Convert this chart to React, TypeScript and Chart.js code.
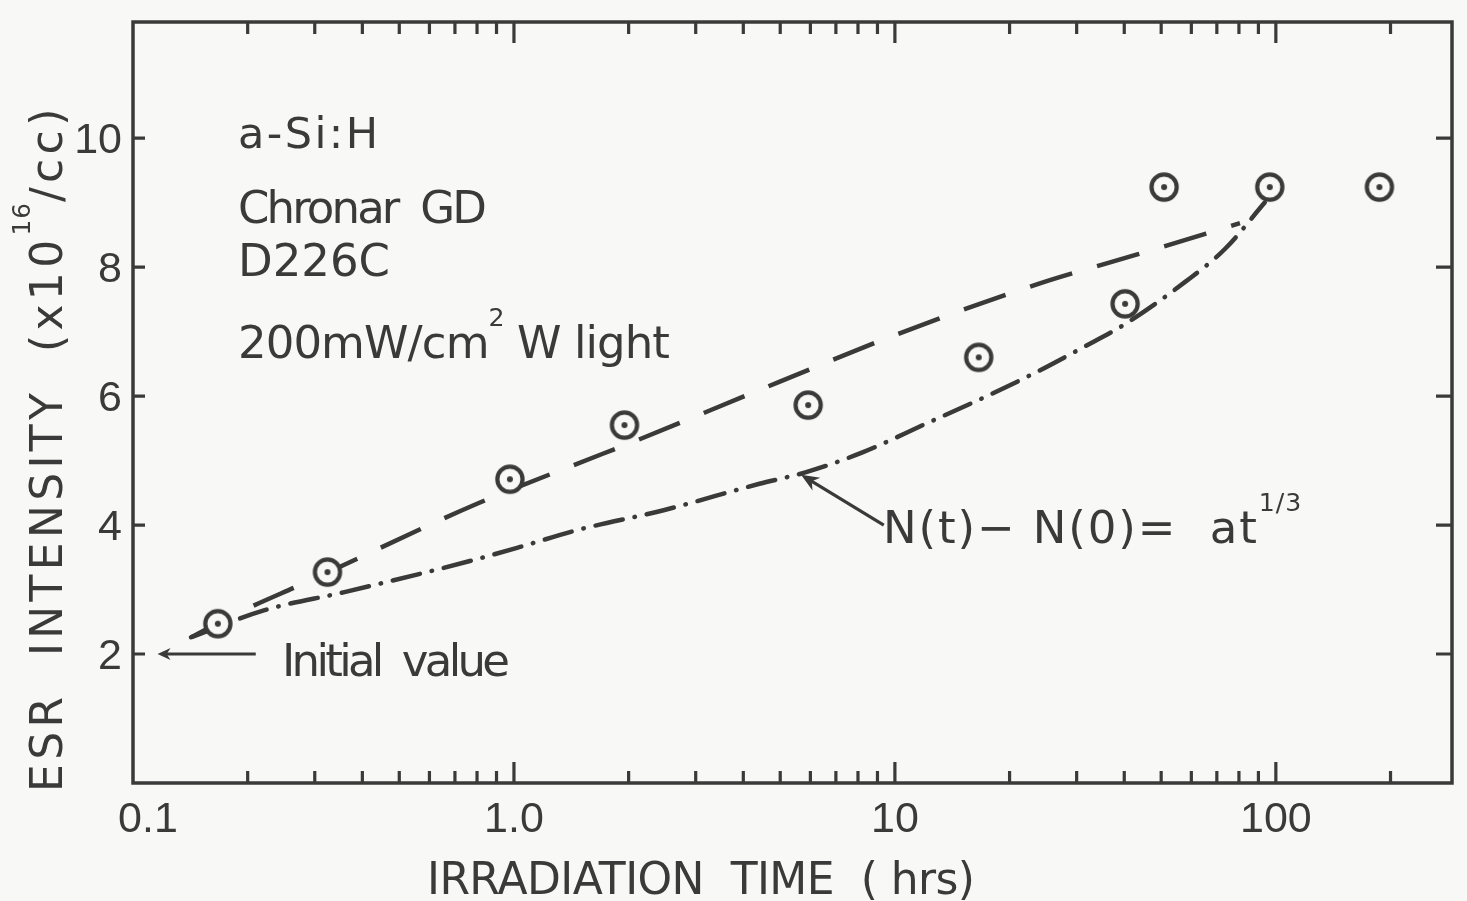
import React, { useEffect, useRef } from 'react';
import { Chart, registerables } from 'chart.js';

Chart.register(...registerables);

const INK = '#3a3a3a';
const PAPER = '#f8f8f6';
const TEXT_FONT = '"DejaVu Sans", sans-serif';
const DIGIT_FONT = '"Liberation Sans", Arial, sans-serif';

// Measured ESR spin density (x10^16 /cc) versus light-soaking time (hrs)
const irradiationHrs = [0.167, 0.324, 0.976, 1.95, 5.92, 16.6, 40.2, 50.9, 96.4, 187];
const esrDensity = [2.47, 3.27, 4.71, 5.55, 5.86, 6.6, 7.43, 9.24, 9.24, 9.24];

// Dashed guide through the data
const guideHrs = [0.142, 0.186, 0.287, 0.8, 1.436, 2.138, 4.15, 4.97, 10.06, 23.8, 43.5, 80.5];
const guideDensity = [2.26, 2.62, 3.12, 4.33, 4.93, 5.33, 6.03, 6.22, 6.95, 7.74, 8.2, 8.68];

// Dash-dot curve: N(t) - N(0) = a t^(1/3)
const fitHrs = [0.142, 0.2216, 0.359, 0.753, 1.037, 1.462, 2.47, 4.41, 5.85, 8.25, 12.05, 16.6, 22.97, 31.3, 40.3, 57.8, 73.5, 93.5];
const fitDensity = [2.26, 2.68, 2.96, 3.43, 3.66, 3.92, 4.23, 4.64, 4.82, 5.13, 5.57, 5.94, 6.34, 6.76, 7.12, 7.77, 8.28, 9.0];

// Axis ticks
const xMajorTicks = [0.1, 1, 10, 100];
const xTickLabels = ['0.1', '1.0', '10', '100'];
const xMinorTicks = [0.2, 0.3, 0.4, 0.5, 0.6, 0.7, 0.8, 0.9, 2, 3, 4, 5, 6, 7, 8, 9, 20, 30, 40, 50, 60, 70, 80, 90, 200];
const yTicks = [2, 4, 6, 8, 10];
const yTickLabels = ['2', '4', '6', '8', '10'];

// Arrow anchors (data space): "Initial value" pointer and fit-formula pointer
const initialArrowHrs = [0.21, 0.116];
const initialArrowDensity = [2, 2];
const fitArrowHrs = [9.35, 5.67];
const fitArrowDensity = [4.0, 4.78];

type Run = { text: string; sup?: boolean };

function drawRuns(ctx: CanvasRenderingContext2D, runs: Run[], x: number, y: number, size: number, width?: number) {
  const supSize = size * 0.56;
  const rise = size * 0.72;
  const fontFor = (r: Run) => `${r.sup ? supSize : size}px ${TEXT_FONT}`;
  let natural = 0;
  let glyphs = 0;
  ctx.save();
  (ctx as any).letterSpacing = '0px';
  for (const r of runs) {
    ctx.font = fontFor(r);
    natural += ctx.measureText(r.text).width;
    glyphs += [...r.text].length;
  }
  const spacing = width ? (width - natural) / Math.max(1, glyphs - 1) : 0;
  ctx.textAlign = 'left';
  ctx.textBaseline = 'alphabetic';
  ctx.fillStyle = INK;
  let cx = x;
  for (const r of runs) {
    ctx.font = fontFor(r);
    (ctx as any).letterSpacing = '0px';
    const w = ctx.measureText(r.text).width;
    const n = [...r.text].length;
    const s = r.sup ? Math.min(spacing, 1) : spacing;
    (ctx as any).letterSpacing = `${s}px`;
    ctx.fillText(r.text, cx, r.sup ? y - rise : y);
    cx += w + s * n;
  }
  ctx.restore();
}

function arrow(ctx: CanvasRenderingContext2D, x0: number, y0: number, x1: number, y1: number, len: number, half: number) {
  const ang = Math.atan2(y1 - y0, x1 - x0);
  ctx.beginPath();
  ctx.moveTo(x0, y0);
  ctx.lineTo(x1 - Math.cos(ang) * len * 0.6, y1 - Math.sin(ang) * len * 0.6);
  ctx.stroke();
  ctx.beginPath();
  ctx.moveTo(x1, y1);
  ctx.lineTo(x1 - Math.cos(ang) * len - Math.sin(ang) * half, y1 - Math.sin(ang) * len + Math.cos(ang) * half);
  ctx.lineTo(x1 - Math.cos(ang) * len * 0.7, y1 - Math.sin(ang) * len * 0.7);
  ctx.lineTo(x1 - Math.cos(ang) * len + Math.sin(ang) * half, y1 - Math.sin(ang) * len - Math.cos(ang) * half);
  ctx.closePath();
  ctx.fill();
}

const paperPlugin = {
  id: 'paper',
  beforeDraw(chart: any) {
    const { ctx, width, height } = chart;
    ctx.save();
    ctx.fillStyle = PAPER;
    ctx.fillRect(0, 0, width, height);
    ctx.restore();
  },
};

const framePlugin = {
  id: 'frameAndLabels',
  afterDraw(chart: any) {
    const { ctx, chartArea: a, scales } = chart;
    const xs = scales.x;
    const ys = scales.y;
    ctx.save();
    ctx.strokeStyle = INK;
    ctx.fillStyle = INK;
    ctx.lineCap = 'butt';

    // frame
    ctx.lineWidth = 3.5;
    ctx.strokeRect(a.left, a.top, a.right - a.left, a.bottom - a.top);

    // inward ticks
    ctx.lineWidth = 3.2;
    const vTick = (px: number, len: number) => {
      ctx.beginPath();
      ctx.moveTo(px, a.bottom);
      ctx.lineTo(px, a.bottom - len);
      ctx.moveTo(px, a.top);
      ctx.lineTo(px, a.top + len);
      ctx.stroke();
    };
    xMinorTicks.forEach((v) => vTick(xs.getPixelForValue(v), 12));
    xMajorTicks.slice(1).forEach((v) => vTick(xs.getPixelForValue(v), 21));
    yTicks.forEach((v) => {
      const py = ys.getPixelForValue(v);
      ctx.beginPath();
      ctx.moveTo(a.left, py);
      ctx.lineTo(a.left + 12, py);
      ctx.moveTo(a.right, py);
      ctx.lineTo(a.right - 16, py);
      ctx.stroke();
    });

    // tick labels
    ctx.font = `43px ${DIGIT_FONT}`;
    ctx.textBaseline = 'alphabetic';
    ctx.textAlign = 'center';
    xMajorTicks.forEach((v, i) => {
      const px = xs.getPixelForValue(v) + (i === 0 ? 15 : 0);
      ctx.fillText(xTickLabels[i], px, a.bottom + 49);
    });
    ctx.textAlign = 'right';
    yTicks.forEach((v, i) => {
      ctx.fillText(yTickLabels[i], a.left - 11, ys.getPixelForValue(v) + 15);
    });

    // axis titles
    drawRuns(ctx, [{ text: 'IRRADIATION  TIME  ( hrs)' }], 427, 894, 44, 548);
    ctx.save();
    ctx.translate(62, 792);
    ctx.rotate(-Math.PI / 2);
    drawRuns(ctx, [{ text: 'ESR  INTENSITY  (x10' }, { text: '16', sup: true }, { text: '/cc)' }], 0, 0, 44, 690);
    ctx.restore();

    // sample description
    drawRuns(ctx, [{ text: 'a-Si:H' }], 238, 148, 43, 140);
    drawRuns(ctx, [{ text: 'Chronar  GD' }], 238, 223, 45, 249);
    drawRuns(ctx, [{ text: 'D226C' }], 238, 276, 45, 152);
    drawRuns(ctx, [{ text: '200mW/cm' }, { text: '2', sup: true }, { text: ' W light' }], 238, 358, 45, 432);

    // annotations with pointers
    drawRuns(ctx, [{ text: 'Initial  value' }], 282, 676, 45, 228);
    drawRuns(ctx, [{ text: 'N(t)− N(0)=  at' }, { text: '1/3', sup: true }], 883, 543, 45, 420);

    ctx.lineWidth = 3.2;
    arrow(
      ctx,
      xs.getPixelForValue(initialArrowHrs[0]), ys.getPixelForValue(initialArrowDensity[0]),
      xs.getPixelForValue(initialArrowHrs[1]), ys.getPixelForValue(initialArrowDensity[1]),
      13, 6,
    );
    arrow(
      ctx,
      xs.getPixelForValue(fitArrowHrs[0]), ys.getPixelForValue(fitArrowDensity[0]),
      xs.getPixelForValue(fitArrowHrs[1]), ys.getPixelForValue(fitArrowDensity[1]),
      18, 7.5,
    );
    ctx.restore();
  },
};

function makeMarker(): HTMLCanvasElement {
  const c = document.createElement('canvas');
  c.width = 38;
  c.height = 38;
  const g = c.getContext('2d')!;
  g.fillStyle = PAPER;
  g.strokeStyle = INK;
  g.lineWidth = 4.2;
  g.beginPath();
  g.arc(19, 19, 12.6, 0, Math.PI * 2);
  g.fill();
  g.stroke();
  g.fillStyle = INK;
  g.beginPath();
  g.arc(19, 19, 3, 0, Math.PI * 2);
  g.fill();
  return c;
}

export default function App() {
  const ref = useRef<HTMLCanvasElement | null>(null);

  useEffect(() => {
    if (!ref.current) return;
    const marker = makeMarker();
    const chart = new Chart(ref.current, {
      type: 'scatter',
      data: {
        datasets: [
          {
            label: 'ESR intensity',
            data: irradiationHrs.map((t, i) => ({ x: t, y: esrDensity[i] })),
            pointStyle: marker as any,
            pointRadius: 14,
            showLine: false,
            order: 0,
          },
          {
            label: 'guide',
            data: guideHrs.map((t, i) => ({ x: t, y: guideDensity[i] })),
            showLine: true,
            pointRadius: 0,
            borderColor: INK,
            borderWidth: 4.5,
            borderDash: [44, 26],
            cubicInterpolationMode: 'monotone',
            order: 1,
          },
          {
            label: 'N(t) - N(0) = a t^1/3',
            data: fitHrs.map((t, i) => ({ x: t, y: fitDensity[i] })),
            showLine: true,
            pointRadius: 0,
            borderColor: INK,
            borderWidth: 4.5,
            borderDash: [28, 12, 0.5, 12],
            borderCapStyle: 'round',
            cubicInterpolationMode: 'monotone',
            order: 2,
          },
        ],
      } as any,
      options: {
        responsive: false,
        animation: false,
        devicePixelRatio: 1,
        layout: { padding: { top: 22, right: 9, left: 0, bottom: 0 } },
        plugins: { legend: { display: false }, tooltip: { enabled: false } },
        scales: {
          x: {
            type: 'logarithmic',
            min: 0.1,
            max: 290,
            grid: { display: false },
            border: { display: false },
            ticks: { display: false },
            afterFit: (s: any) => {
              s.height = 118;
            },
          },
          y: {
            type: 'linear',
            min: 0,
            max: 11.8,
            grid: { display: false },
            border: { display: false },
            ticks: { display: false },
            afterFit: (s: any) => {
              s.width = 133;
            },
          },
        },
      } as any,
      plugins: [paperPlugin, framePlugin],
    });
    return () => chart.destroy();
  }, []);

  return (
    <div style={{ position: 'fixed', left: 0, top: 0, width: 1467, height: 901, background: PAPER }}>
      <canvas ref={ref} width={1467} height={901} style={{ display: 'block' }} />
    </div>
  );
}
